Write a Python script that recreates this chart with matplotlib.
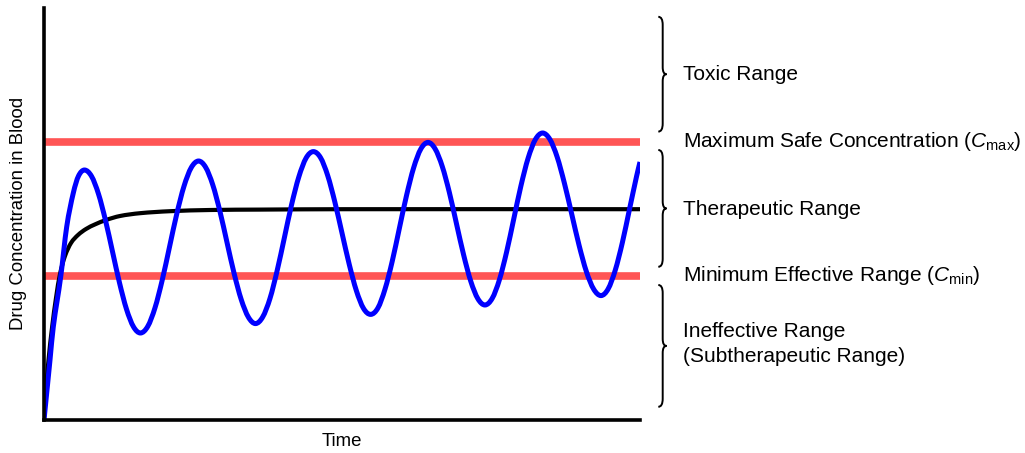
import matplotlib
matplotlib.use("Agg")
import matplotlib.pyplot as plt
from matplotlib.path import Path
from matplotlib.patches import PathPatch
from matplotlib.transforms import IdentityTransform

plt.rcParams['font.family'] = ['Liberation Sans', 'DejaVu Sans']
plt.rcParams['mathtext.fontset'] = 'custom'
plt.rcParams['mathtext.rm'] = 'Liberation Sans'
plt.rcParams['mathtext.it'] = 'Liberation Sans:italic'

# ---------------- data ----------------
# repeated dosing: oscillating concentration
dose_time = [0, 0.3, 0.6, 0.93, 1.67, 2.27, 2.93, 3.45,
             4.05, 4.75, 5.45, 6.15, 6.85, 7.55, 8.25, 8.95, 9.65,
             10.375, 11.1, 11.825, 12.55, 13.275, 14.0, 14.725, 15.45,
             16.16, 16.875, 17.59, 18.3, 19.01, 19.725, 20.44, 21.15,
             21.87, 22.6, 23.32, 24.04, 24.76, 25.485, 26.21, 26.93,
             27.65, 28.365, 29.08, 29.8, 30.52, 31.235, 31.95, 32.67,
             33.39, 34.1, 34.82, 35.535, 36.25, 36.97, 37.68, 38.4,
             39.11, 39.825, 40.54, 41.25, 41.96, 42.675, 43.39, 44.1,
             44.82, 45.54, 46.26, 46.975, 47.69, 48.41, 49.13, 49.85,
             50.58, 51.31, 52.04, 52.775, 53.51, 54.24, 54.97, 55.7,
             56.41, 57.125, 57.84, 58.55, 59.26, 59.6]
dose_conc = [0, 7.5, 15, 23.3, 35.8, 48.3, 56.75, 61,
             62.5, 60.95, 56.5, 49.9, 42.1, 34.3, 27.7, 23.3, 21.75,
             23.4, 28.05, 35.0, 43.25, 51.5, 58.45, 63.1, 64.75,
             63.2, 58.8, 52.2, 44.4, 36.65, 30.1, 25.7, 24.1,
             25.75, 30.4, 37.4, 45.6, 53.85, 60.8, 65.5, 67.1,
             65.6, 61.15, 54.55, 46.75, 38.95, 32.35, 27.9, 26.4,
             28.0, 32.7, 39.65, 47.9, 56.1, 63.1, 67.75, 69.4,
             67.8, 63.4, 56.85, 49.05, 41.3, 34.7, 30.3, 28.75,
             30.4, 35.05, 42.0, 50.25, 58.5, 65.45, 70.1, 71.75,
             70.2, 65.8, 59.2, 51.45, 43.65, 37.1, 32.7, 31.1,
             32.75, 37.45, 44.4, 52.7, 60.95, 64.5]

# continuous infusion: rises to a plateau
infusion_time = [0, 0.2, 0.45, 0.8, 1.2, 1.6, 2.1, 2.7, 3.4, 4.2, 5.1,
                 6.2, 7.6, 9.6, 12.6, 16.6, 21.6, 30, 59.6]
infusion_conc = [0, 7.5, 15, 23, 30.5, 36.5, 41, 44.25, 46.25, 47.75, 48.9,
                 50, 51, 51.7, 52.2, 52.5, 52.6, 52.7, 52.7]

c_max = 69.45
c_min = 35.9

# braces: (low, high) concentration of each range
brace_ranges = [(72.1, 100.8), (38.3, 67.5), (3.3, 33.75)]

range_labels = ["Toxic Range",
                r"Maximum Safe Concentration ($C_{\mathrm{max}}$)",
                "Therapeutic Range",
                r"Minimum Effective Range ($C_{\mathrm{min}}$)",
                "Ineffective Range",
                "(Subtherapeutic Range)"]
label_baselines_px = [80, 146.7, 215, 281, 337.3, 361.7]


def smooth_path(xs, ys):
    """Smoothed line through the data points (cubic Bezier segments,
    like a spreadsheet 'smoothed line')."""
    n = len(xs)
    slopes = []
    for i in range(n):
        a, b = max(i - 1, 0), min(i + 1, n - 1)
        slopes.append((ys[b] - ys[a]) / (xs[b] - xs[a]))
    verts = [(xs[0], ys[0])]
    codes = [Path.MOVETO]
    for i in range(n - 1):
        h = xs[i + 1] - xs[i]
        verts += [(xs[i] + h / 3, ys[i] + slopes[i] * h / 3),
                  (xs[i + 1] - h / 3, ys[i + 1] - slopes[i + 1] * h / 3),
                  (xs[i + 1], ys[i + 1])]
        codes += [Path.CURVE4] * 3
    return Path(verts, codes)


# ---------------- figure ----------------
W, H = 1025, 453
fig = plt.figure(figsize=(W / 100, H / 100), dpi=100)
ax = fig.add_axes([44 / W, 33 / H, 596 / W, 412 / H])
ax.set_xlim(0, 59.6)
ax.set_ylim(0, 103)
ax.set_autoscale_on(False)

ax.axhline(c_max, color='#FF5555', lw=5.5, zorder=1, solid_capstyle='butt')
ax.axhline(c_min, color='#FF5555', lw=5.5, zorder=1, solid_capstyle='butt')
ax.add_patch(PathPatch(smooth_path(infusion_time, infusion_conc), fill=False,
                       ec='black', lw=3.0, zorder=3, joinstyle='round',
                       capstyle='butt'))
ax.add_patch(PathPatch(smooth_path(dose_time, dose_conc), fill=False,
                       ec='#0000FF', lw=3.6, zorder=4, joinstyle='round',
                       capstyle='butt'))

for s in ['top', 'right']:
    ax.spines[s].set_visible(False)
for s in ['left', 'bottom']:
    ax.spines[s].set_linewidth(2.6)
    ax.spines[s].set_zorder(5)
ax.set_xticks([])
ax.set_yticks([])

fig.text(18.5 / W, 1 - 213.5 / H, "Drug Concentration in Blood", rotation=90,
         ha='center', va='center', fontsize=13.4)
fig.text(342 / W, 1 - 446 / H, "Time", ha='center', va='baseline', fontsize=13.4)

for lab, yb in zip(range_labels, label_baselines_px):
    fig.text(683.3 / W, 1 - yb / H, lab, ha='left', va='baseline', fontsize=15)

fig.canvas.draw()


def draw_brace(lo, hi):
    yt = ax.transData.transform((0, hi))[1]
    yb = ax.transData.transform((0, lo))[1]
    ym = (yt + yb) / 2
    x0, x1, x2 = 658.3, 662.7, 666.5
    r, rt = 8, 7
    verts = [(x0, yt), (x1, yt), (x1, yt - r),
             (x1, ym + rt), (x1, ym), (x2, ym),
             (x1, ym), (x1, ym - rt),
             (x1, yb + r), (x1, yb), (x0, yb)]
    codes = [Path.MOVETO, Path.CURVE3, Path.CURVE3,
             Path.LINETO, Path.CURVE3, Path.CURVE3,
             Path.CURVE3, Path.CURVE3,
             Path.LINETO, Path.CURVE3, Path.CURVE3]
    fig.add_artist(PathPatch(Path(verts, codes), transform=IdentityTransform(),
                             fill=False, lw=1.4, ec='black'))


for lo, hi in brace_ranges:
    draw_brace(lo, hi)

fig.savefig("out.png", dpi=100)
